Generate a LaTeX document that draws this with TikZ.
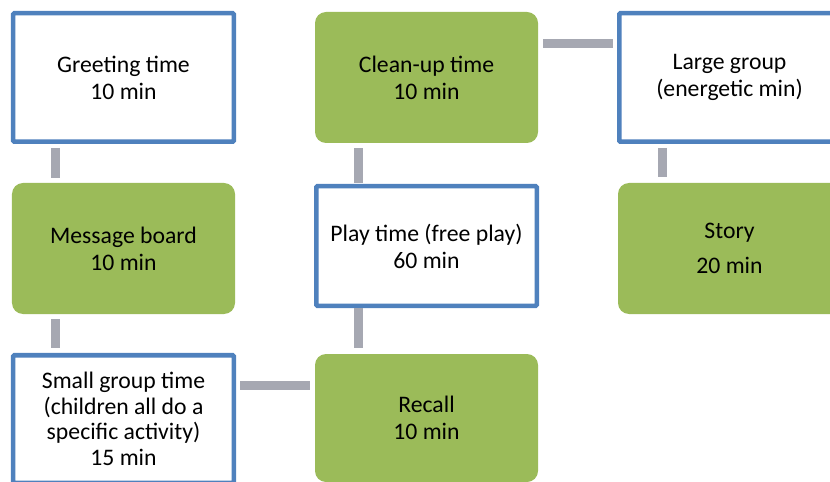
\documentclass[tikz,border=0pt]{standalone}
\usepackage{fontspec}
\setmainfont{Carlito}
\definecolor{sblue}{RGB}{79,129,189}
\definecolor{sgreen}{RGB}{155,187,89}
\definecolor{sgray}{RGB}{166,168,178}
\begin{document}
\begin{tikzpicture}[x=1bp,y=-1bp,
  txt/.style={align=center, font=\fontsize{23.8}{27.1}\selectfont, text=black},
  bluebox/.style={txt, draw=sblue, line width=4.5bp, fill=white, rounded corners=1bp, inner sep=0pt, outer sep=2.25bp},
  greenbox/.style={txt, fill=sgreen, rounded corners=11bp, inner sep=0pt, outer sep=0pt},
  link/.style={draw=sgray, line width=9bp, line cap=butt},
  hlink/.style={draw=sgray, line width=8.5bp, line cap=butt}]
\useasboundingbox (0,0) rectangle (830,482);
\begin{scope}
\clip (0,0) rectangle (830,482);
\node[bluebox, minimum width=220.5bp, minimum height=128.5bp] (greet) at (123.5,77.5) {Greeting time\\10 min};
\node[greenbox, minimum width=223bp, minimum height=131bp] (msg) at (123.5,248.5) {Message board\\10 min};
\node[bluebox, minimum width=220.5bp, minimum height=127.5bp, font=\fontsize{23.8}{25.7}\selectfont] (small) at (123.5,419) {Small group time\\(children all do a\\specific activity)\\15 min};
\node[greenbox, minimum width=223bp, minimum height=128bp] (recall) at (426.5,418) {Recall\\10 min};
\node[bluebox, minimum width=220.5bp, minimum height=119.5bp] (play) at (426.5,246) {Play time (free play)\\60 min};
\node[greenbox, minimum width=223bp, minimum height=131bp] (clean) at (426.5,77.5) {Clean-up time\\10 min};
\node[bluebox, minimum width=220.5bp, minimum height=128.5bp] (large) at (729.5,77.5) {Large group\\(energetic min)};
\node[greenbox, minimum width=223bp, minimum height=131bp] (story) at (729.5,248.5) {Story\\[8bp]20 min};

\draw[link, shorten <=4bp, shorten >=5bp] ([xshift=44.5bp]greet.south west) -- ([xshift=44.5bp]greet.south west |- msg.north);
\draw[link, shorten <=5bp, shorten >=5bp] ([xshift=43.5bp]msg.south west) -- ([xshift=43.5bp]msg.south west |- small.north);
\draw[hlink, shorten <=4bp, shorten >=5bp] ([yshift=-32.5bp]small.north east) -- ([yshift=-32.5bp]small.north east -| recall.west);
\draw[link, shorten <=0bp, shorten >=6bp] ([xshift=44.5bp]play.south west) -- ([xshift=44.5bp]play.south west |- recall.north);
\draw[link, shorten <=1bp, shorten >=5bp] ([xshift=44.5bp]play.north west) -- ([xshift=44.5bp]play.north west |- clean.south);
\draw[hlink, shorten <=5bp, shorten >=4bp] ([yshift=-31.5bp]clean.north east) -- ([yshift=-31.5bp]clean.north east -| large.west);
\draw[link, shorten <=4bp, shorten >=6bp] ([xshift=45.5bp]large.south west) -- ([xshift=45.5bp]large.south west |- story.north);
\end{scope}
\end{tikzpicture}
\end{document}
